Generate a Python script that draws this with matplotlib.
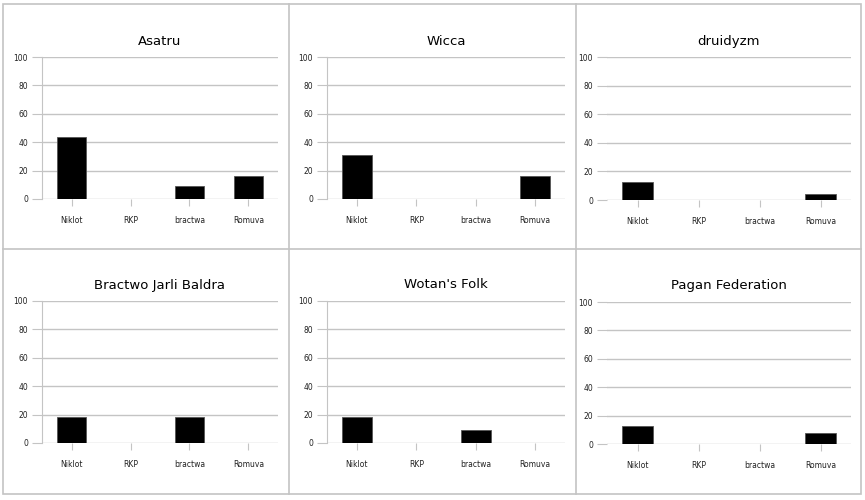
import matplotlib
matplotlib.use("Agg")
import matplotlib.pyplot as plt
from matplotlib.lines import Line2D
from matplotlib.patches import Rectangle
import numpy as np

W, H = 865, 500

categories = ["Niklot", "RKP", "bractwa", "Romuva"]
titles = ["Asatru", "Wicca", "druidyzm",
          "Bractwo Jarli Baldra", "Wotan's Folk", "Pagan Federation"]
asatru = [43.5, 0, 9, 16.5]
wicca = [31, 0, 0, 16.5]
druidyzm = [12.5, 0, 0, 4]
bractwo = [18.5, 0, 18, 0]
wotan = [18.5, 0, 9, 0]
pagan = [12.5, 0, 0, 8]
panel_values = [asatru, wicca, druidyzm, bractwo, wotan, pagan]
yticks = [0, 20, 40, 60, 80, 100]

# axes boxes in pixels: left, right, top, bottom
BOXES = [(42, 278, 57, 199), (327, 565, 57, 199), (607, 851, 57, 200),
         (42, 278, 301, 443), (327, 565, 301, 443), (607, 851, 302, 444)]
GRID = "#c4c4c4"


def px_rect(l, r, t, b):
    return [l / W, 1 - b / H, (r - l) / W, (b - t) / H]


fig = plt.figure(figsize=(W / 100, H / 100), dpi=100)

# panel frame
fig.add_artist(Rectangle((3 / W, 1 - 494 / H), 858 / W, 490 / H,
                         transform=fig.transFigure, fill=False,
                         edgecolor=GRID, lw=1.2))
for x in (289, 576):
    fig.add_artist(Line2D([x / W, x / W], [1 - 494 / H, 1 - 4 / H],
                          transform=fig.transFigure, color=GRID, lw=1.2))
fig.add_artist(Line2D([3 / W, 861 / W], [1 - 249 / H, 1 - 249 / H],
                      transform=fig.transFigure, color=GRID, lw=1.2))

x = np.arange(len(categories))
for i, (box, title, vals) in enumerate(zip(BOXES, titles, panel_values)):
    ax = fig.add_axes(px_rect(*box))
    for yv in yticks:
        ax.axhline(yv, color=GRID, lw=1.0, zorder=0)
    ax.bar(x, vals, 0.5, color="black", edgecolor="#555555", linewidth=0.6,
           zorder=2)
    ax.set_xlim(-0.5, len(categories) - 0.5)
    ax.set_ylim(0, 100)
    ax.set_yticks(yticks)
    ax.set_yticklabels([str(v) for v in yticks], fontsize=5.5, color="#222222")
    ax.set_xticks(x)
    ax.set_xticklabels(categories, fontsize=5.5, color="#222222")
    ax.tick_params(axis="y", length=7, color=GRID, pad=3)
    ax.tick_params(axis="x", length=5, color=GRID, pad=7)
    for s in ("top", "right", "bottom"):
        ax.spines[s].set_visible(False)
    if i % 3 == 2:
        ax.spines["left"].set_visible(False)
    else:
        ax.spines["left"].set_color(GRID)
    ax.set_title(title, fontsize=9.5, pad=9)
    ax.set_facecolor("none")

fig.savefig("out.png", dpi=100)
